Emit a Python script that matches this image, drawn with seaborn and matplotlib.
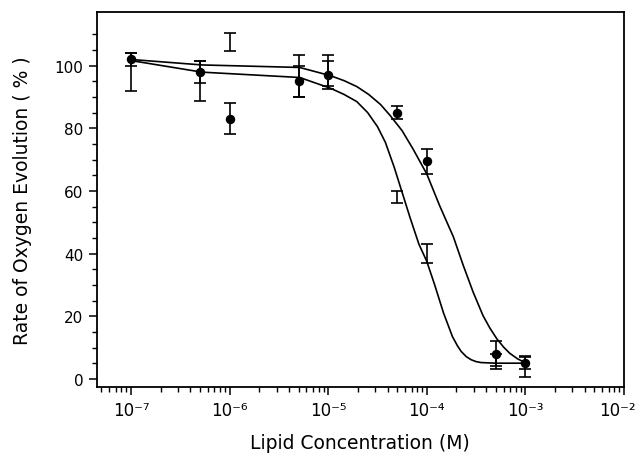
import numpy as np
import pandas as pd
import matplotlib
matplotlib.use("Agg")
import matplotlib.pyplot as plt
import matplotlib.ticker as mticker
import matplotlib.transforms as mtransforms
import seaborn as sns

# concentraciones medidas (M)
conc = [1e-7, 5e-7, 1e-6, 5e-6, 1e-5, 5e-5, 1e-4, 5e-4, 1e-3]

# serie con circulos (curva desplazada a la derecha)
rate_a = [102, 98, 83, 95, 97, 85, 69.5, 8, 5.1]
err_a = [2, 3.6, 5, 5, 4.6, 2, 4, 4, 1.9]

# serie sin marcador visible (curva mas empinada)
rate_b = [98, 95.1, 107.5, 96.7, 98.4, 58, 40, 5.5, 4]
err_b = [6, 6.5, 2.8, 6.7, 5, 2, 3, 2.5, 3.3]

# curvas ajustadas (log10 de la concentracion)
curve_a_logx = [-6.98, -6.28, -5.29, -4.98, -4.84, -4.71, -4.59, -4.47, -4.37,
                -4.25, -4.14, -4.0, -3.87, -3.73, -3.63, -3.53, -3.43, -3.36,
                -3.29, -3.22, -3.16, -3.08, -3.01]
curve_a_y = [101.9, 100.2, 99.4, 96.8, 95.2, 93.3, 90.8, 87.6, 84,
             79.2, 73.4, 65.4, 55.3, 45.3, 36.2, 27.7, 20.2, 16.2,
             12.8, 10.1, 8.2, 6.4, 5.3]
curve_b_logx = [-6.98, -6.28, -5.29, -4.98, -4.84, -4.71, -4.6, -4.5, -4.42,
                -4.33, -4.255, -4.17, -4.08, -4.0, -3.92, -3.83, -3.74, -3.69,
                -3.65, -3.6, -3.55, -3.5, -3.45, -3.3, -3.01]
curve_b_y = [101.5, 97.9, 96.2, 92.8, 90.8, 88.5, 85, 80.5, 75.5,
             67.5, 60, 51.5, 43, 37.5, 30, 21, 13.5, 10.6,
             8.7, 7.1, 6.1, 5.5, 5.2, 5.0, 5.0]

tick_exps = [-7, -6, -5, -4, -3, -2]


def fmt_exp(v, pos):
    # etiqueta tipo 10^-n con superindice
    e = int(round(np.log10(v)))
    sup = str.maketrans('-0123456789', '\u207b\u2070\u00b9\u00b2\u00b3\u2074\u2075\u2076\u2077\u2078\u2079')
    return '10' + str(e).translate(sup)


sns.set_style("ticks")
plt.rcParams['font.family'] = ['DejaVu Sans']
plt.rcParams['text.color'] = 'black'
plt.rcParams['axes.labelcolor'] = 'black'
plt.rcParams['xtick.color'] = 'black'
plt.rcParams['ytick.color'] = 'black'

fig = plt.figure(figsize=(6.39, 4.77), dpi=100)
ax = fig.add_axes([0.1513, 0.1866, 0.8252, 0.7868])

df_a = pd.DataFrame({'x': 10.0 ** np.array(curve_a_logx), 'y': curve_a_y})
df_b = pd.DataFrame({'x': 10.0 ** np.array(curve_b_logx), 'y': curve_b_y})
sns.lineplot(data=df_a, x='x', y='y', ax=ax, color='black', lw=1.2, sort=False)
sns.lineplot(data=df_b, x='x', y='y', ax=ax, color='black', lw=1.2, sort=False)

ax.errorbar(conc, rate_b, yerr=err_b, fmt='none', ecolor='black',
            elinewidth=1.2, capsize=4, capthick=1.2)
ax.errorbar(conc, rate_a, yerr=err_a, fmt='o', color='black', ms=5.8,
            ecolor='black', elinewidth=1.2, capsize=4, capthick=1.2)

ax.set_xscale('log')
ax.set_xlim(10 ** -7.348, 1e-2)
ax.set_ylim(-2.6, 117.2)

ax.xaxis.set_major_locator(mticker.FixedLocator([10.0 ** e for e in tick_exps]))
ax.xaxis.set_major_formatter(mticker.FuncFormatter(fmt_exp))
ax.xaxis.set_minor_locator(mticker.LogLocator(base=10, subs=np.arange(2, 10), numticks=20))
ax.xaxis.set_minor_formatter(mticker.NullFormatter())
ax.set_yticks([0, 20, 40, 60, 80, 100])
ax.yaxis.set_minor_locator(mticker.FixedLocator([v for v in range(5, 115, 5) if v % 20]))

ax.tick_params(which='major', direction='out', length=6, width=1.1, labelsize=11)
ax.tick_params(which='minor', direction='out', length=3.5, width=1.0)
ax.tick_params(axis='x', which='major', pad=4, labelsize=12)
for s in ax.spines.values():
    s.set_visible(True)
    s.set_linewidth(1.3)
    s.set_color('black')

ax.set_xlabel('Lipid Concentration (M)', fontsize=13.5, labelpad=10)
ax.set_ylabel('Rate of Oxygen Evolution ( % )', fontsize=13.5, labelpad=16)

# la ultima etiqueta se corre un poco a la izquierda para que no se corte
fig.canvas.draw()
last = ax.get_xticklabels()[-1]
last.set_transform(last.get_transform() + mtransforms.ScaledTranslation(-5 / 72, 0, fig.dpi_scale_trans))

fig.savefig('out.png', dpi=100)
